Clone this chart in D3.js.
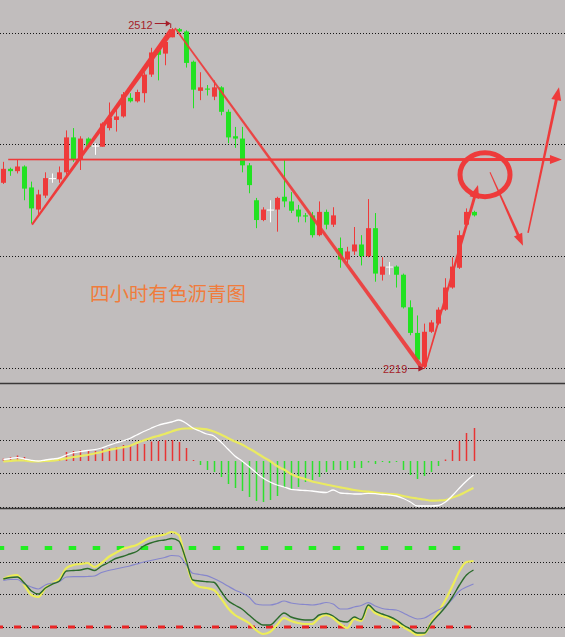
<!DOCTYPE html>
<html><head><meta charset="utf-8">
<script src="https://cdn.jsdelivr.net/npm/d3@7/dist/d3.min.js"></script>
<style>html,body{margin:0;padding:0;background:#c1bdbd;}svg{display:block;}</style>
</head><body>
<svg id="chart" width="565" height="637"></svg>
<script>
// ---------- DATA ----------
const candleOpen  = [2379,2391,2389,2393,2375,2356,2368,2383,2382,2388,2418,2399,2417,2411,2410,2426,2433,2436,2452,2449,2456,2472,2493,2490,2504,2511,2509,2483,2458,2460,2453,2461,2440,2419,2417,2394,2364,2347,2356,2356,2367,2363,2356,2351,2351,2334,2354,2343,2323,2313,2320,2326,2316,2340,2300,2307,2307,2300,2272,2250,2221,2251,2258,2270,2289,2306,2343,2354];
const candleHigh  = [2397,2392,2399,2394,2380,2373,2388,2387,2393,2424,2426,2419,2418,2413,2431,2448,2443,2457,2456,2459,2474,2495,2496,2503,2512,2512,2510,2484,2474,2463,2467,2462,2442,2427,2427,2396,2366,2358,2364,2367,2399,2371,2360,2353,2354,2363,2356,2358,2332,2324,2341,2334,2365,2353,2315,2311,2308,2301,2278,2265,2258,2261,2272,2297,2315,2338,2357,2355];
const candleLow   = [2378,2385,2387,2364,2344,2350,2366,2379,2379,2386,2397,2390,2409,2403,2410,2424,2423,2435,2448,2448,2448,2470,2467,2480,2504,2508,2478,2443,2450,2454,2450,2437,2413,2409,2388,2370,2340,2346,2345,2337,2358,2353,2345,2345,2332,2333,2339,2341,2306,2310,2317,2308,2315,2294,2295,2300,2289,2271,2248,2225,2219,2250,2257,2269,2288,2305,2342,2350];
const candleClose = [2391,2389,2393,2374,2357,2369,2383,2383,2388,2418,2399,2417,2410,2411,2430,2435,2436,2455,2449,2457,2472,2491,2489,2500,2511,2509,2482,2459,2461,2459,2461,2440,2418,2417,2394,2377,2347,2356,2356,2366,2363,2355,2350,2350,2334,2354,2343,2351,2313,2320,2326,2316,2340,2301,2307,2307,2300,2272,2250,2227,2251,2259,2270,2289,2307,2334,2354,2351];

const macdHist = [2.5,4,5.5,4,0.5,0.5,0.5,0.5,2.5,9,10,11,11,10,12,13,14,16,16,17,17,19.5,20,21,21,19,13,1,-4,-9,-11,-16,-23,-27,-30,-36,-40,-41,-39,-35,-26,-28,-26,-21,-19,-16,-11,-9,-9,-9,-7,-7,-1.5,-3,-1,-2,-1,-9,-14,-18,-15,-11,-5,1.5,11,20,28,33];
const macdDif  = [1.5,2.5,3.3,2,0.7,0,1,2,3,6,8.3,9.5,10.5,11.3,13,15.5,18,20,22.5,26,29.5,32.5,35.5,37.5,39,41,38,33,30,27,25,19,12,5,0,-5.5,-11.5,-17,-21,-24,-26,-28.3,-29,-29.5,-30,-31,-31.5,-29,-32,-32.5,-33,-33,-32.3,-32.7,-33.5,-34,-35,-37.5,-41,-45,-45,-45,-44.5,-41,-34.5,-27,-20,-14];
const macdDea  = [-0.5,0,0.7,0.5,-0.3,-0.5,0,0.3,1.3,2.7,4,5,6,7.5,9,11,12.3,13.7,15,18,20.5,23,25,27,29.5,31.7,32.5,32.7,32.3,31.7,29.5,26.5,23,19.5,16.5,12.5,8.5,4,0,-5,-8.5,-13,-16,-18,-20.5,-22,-23.5,-25,-26.3,-27.7,-29,-30,-30.7,-31.7,-32.3,-33,-33.5,-35,-36.5,-37.5,-38.5,-39.7,-39.5,-39,-36.5,-34,-30.5,-27];

const kdjYellow = [48,51,52,42,32,30,39,44,48,59,62,63,64,60,64,70,74,78,80,82,86,89.5,91,92.5,95,92,66,45,40,39,37,29,19,12,8,4,-3,-7,-5,2,9,6,4,3,3,9,12,9,3,-1,8,6,20,14,11,9,5,0,-4,-8,-7,5,15,27,41,56,65,66];
const kdjGreen  = [48,49.5,50,44,36,33,39,43,46,56,56.5,57,58.5,56.5,61,64.5,68.5,70.5,73,75.5,81,84,86,87,88.5,86,68,47,46,45.3,44.7,36,26.5,22,18,12,6,2,2,8,14,10,8,7,7,12,13.5,11,6,5,10,7.5,22,16,13,10.5,7,2,-2,-6,-6,4,12,20,30,42,52,57];
const kdjBlue   = [46.5,47.5,47.5,43,40,38,42,44,45.5,50,50.3,50.3,50.5,51,54.5,56.5,58,59.5,61,63,65,66.5,68,69.5,71.5,71,63,53.7,52.5,51.3,48.5,45,41,37,34,30,23,22,22,23.5,26,24,23,22.5,22,23,24.5,23,18,18,20,21.5,24.3,21,18.5,17.5,17,14,10.5,8,9,13,17,21,28,36,40,43];

const priceGrid = [2508,2412,2316,2220];
const macdGrid  = [54,21,-12,-45.5];
const kdjGrid   = [94,65,33,0];
const kdjUpperLevel = 79;
const kdjLowerLevel = 0;

const titleText = "四小时有色沥青图";

// annotation points in (candle index, price)
const hLinePts     = [[0.7,2399],[79.6,2399]];
const trendUpPts   = [[4.09,2343],[24.0,2510]];
const trendDownPts = [[24.46,2512],[59.66,2220]];
const reboundPts   = [[60.1,2220],[67.64,2377]];
const circlePt     = [68.64,2386];
const dropPts      = [[69.35,2388],[74.05,2325]];
const risePts      = [[74.77,2336],[79.18,2461]];

// ---------- SETUP ----------
const W=565,H=637;
const svg=d3.select('#chart');
const RED='#ef3a3a', GREEN='#22e222', WHITE='#ffffff', ANN='#ee3b3b';
svg.append('rect').attr('width',W).attr('height',H).attr('fill','#c1bdbd');

const x  = d3.scaleLinear().domain([0,67]).range([3.3,473.5]);
const yP = d3.scaleLinear().domain([2219,2512]).range([369,28]);
const yM = d3.scaleLinear().domain([-46,54]).range([507,407]);
const yK = d3.scaleLinear().domain([0,100]).range([627,527]);

function grid(cls, vals, sc){
  svg.selectAll('line.'+cls).data(vals).join('line').attr('class',cls)
    .attr('x1',0).attr('x2',W)
    .attr('y1',d=>Math.round(sc(d))+0.5).attr('y2',d=>Math.round(sc(d))+0.5)
    .attr('stroke','#161616').attr('stroke-width',1).attr('stroke-dasharray','1,2');
}
grid('gp',priceGrid,yP); grid('gm',macdGrid,yM); grid('gk',kdjGrid,yK);

// separators
svg.selectAll('line.sep').data([383.5,508.5]).join('line').attr('class','sep')
  .attr('x1',0).attr('x2',W).attr('y1',d=>d).attr('y2',d=>d)
  .attr('stroke','#3a3838').attr('stroke-width',1.5);

// ---------- CANDLES ----------
const candles=candleOpen.map((o,i)=>({i,o,h:candleHigh[i],l:candleLow[i],c:candleClose[i]}));
const col=d=>d.c>d.o?RED:(d.c<d.o?GREEN:WHITE);
const gC=svg.append('g');
gC.selectAll('line.wick').data(candles).join('line').attr('class','wick')
  .attr('x1',d=>Math.round(x(d.i))+0.5).attr('x2',d=>Math.round(x(d.i))+0.5)
  .attr('y1',d=>yP(d.h)).attr('y2',d=>yP(d.l)).attr('stroke',col).attr('stroke-width',1);
gC.selectAll('rect.body').data(candles).join('rect').attr('class','body')
  .attr('x',d=>Math.round(x(d.i))-(d.o===d.c?3:2)).attr('width',d=>d.o===d.c?7:5)
  .attr('y',d=>yP(Math.max(d.o,d.c))).attr('height',d=>Math.max(1,Math.abs(yP(d.o)-yP(d.c))))
  .attr('fill',col);

// ---------- ANNOTATIONS ----------
const gA=svg.append('g');
const P=p=>[x(p[0]),yP(p[1])];
function taper(a,b,w0,w1,color,op){
  const dx=b[0]-a[0],dy=b[1]-a[1],L=Math.hypot(dx,dy),nx=-dy/L,ny=dx/L;
  const pts=[[a[0]+nx*w0/2,a[1]+ny*w0/2],[b[0]+nx*w1/2,b[1]+ny*w1/2],[b[0]-nx*w1/2,b[1]-ny*w1/2],[a[0]-nx*w0/2,a[1]-ny*w0/2]];
  gA.append('path').attr('d','M'+pts.map(p=>p.join(',')).join('L')+'Z').attr('fill',color).attr('opacity',op||1);
}
function head(tip,from,len,wid,color){
  const dx=tip[0]-from[0],dy=tip[1]-from[1],L=Math.hypot(dx,dy),ux=dx/L,uy=dy/L,nx=-uy,ny=ux;
  const bx=tip[0]-ux*len,by=tip[1]-uy*len;
  gA.append('path').attr('d',`M${tip[0]},${tip[1]}L${bx+nx*wid/2},${by+ny*wid/2}L${bx-nx*wid/2},${by-ny*wid/2}Z`).attr('fill',color);
}
// horizontal level line
{const a=P(hLinePts[0]),b=P(hLinePts[1]); taper(a,[b[0]-8,b[1]],1.6,3,ANN); head(b,a,12,9,ANN);}
// trend lines
taper(P(trendUpPts[0]),P(trendUpPts[1]),2,5.5,ANN);
taper(P(trendDownPts[0]),P(trendDownPts[1]),1.6,4.2,ANN,0.92);
// rebound arrow
{const a=P(reboundPts[0]),b=P(reboundPts[1]); const d=Math.hypot(b[0]-a[0],b[1]-a[1]);
 const e=[b[0]-(b[0]-a[0])/d*8,b[1]-(b[1]-a[1])/d*8]; taper(a,e,1.5,3,ANN); head(b,a,13,10,ANN);}
// circle
{const c=P(circlePt); gA.append('ellipse').attr('cx',c[0]).attr('cy',c[1]).attr('rx',25).attr('ry',22)
  .attr('fill','none').attr('stroke',ANN).attr('stroke-width',5);}
// drop arrow
{const a=P(dropPts[0]),b=P(dropPts[1]); const d=Math.hypot(b[0]-a[0],b[1]-a[1]);
 const e=[b[0]-(b[0]-a[0])/d*8,b[1]-(b[1]-a[1])/d*8]; taper(a,e,1,3,ANN); head(b,a,12,9,ANN);}
// rise arrow
{const a=P(risePts[0]),b=P(risePts[1]); const d=Math.hypot(b[0]-a[0],b[1]-a[1]);
 const e=[b[0]-(b[0]-a[0])/d*8,b[1]-(b[1]-a[1])/d*8]; taper(a,e,1.5,3,ANN); head(b,a,13,10,ANN);}

// high / low labels
const maxHigh=d3.max(candleHigh), iMax=candleHigh.indexOf(maxHigh);
const minLow=d3.min(candleLow), iMin=candleLow.indexOf(minLow);
const LBL='#a51e2a';
{const tx=x(iMax), ty=yP(maxHigh);
 svg.append('text').attr('x',tx-19).attr('y',ty+1).attr('text-anchor','end')
   .attr('font-family','Liberation Sans, Arial, sans-serif').attr('font-size',11).attr('fill',LBL).text(maxHigh);
 svg.append('line').attr('x1',tx-17).attr('x2',tx-3).attr('y1',ty-4.5).attr('y2',ty-4.5).attr('stroke',LBL).attr('stroke-width',1);
 svg.append('path').attr('d',`M${tx-1},${ty-4.5}L${tx-6},${ty-7.5}L${tx-6},${ty-1.5}Z`).attr('fill',LBL);
 svg.append('line').attr('x1',tx-1).attr('x2',tx-1).attr('y1',ty-4.5).attr('y2',ty).attr('stroke',LBL).attr('stroke-width',1);}
{const tx=x(iMin), ty=yP(minLow);
 svg.append('text').attr('x',tx-17).attr('y',ty+4).attr('text-anchor','end')
   .attr('font-family','Liberation Sans, Arial, sans-serif').attr('font-size',11).attr('fill',LBL).text(minLow);
 svg.append('line').attr('x1',tx-15).attr('x2',tx-3).attr('y1',ty-0.5).attr('y2',ty-0.5).attr('stroke',LBL).attr('stroke-width',1);
 svg.append('path').attr('d',`M${tx},${ty-0.5}L${tx-6},${ty-3.5}L${tx-6},${ty+2.5}Z`).attr('fill',LBL);}

// title
svg.append('text').attr('x',90).attr('y',301).attr('font-family','"Noto Sans CJK SC", sans-serif')
  .attr('font-size',19.5).attr('fill','#f07c3c').text(titleText);

// ---------- MACD ----------
const gM=svg.append('g');
gM.selectAll('line.hist').data(macdHist).join('line').attr('class','hist')
  .attr('x1',(d,i)=>Math.round(x(i))+0.5).attr('x2',(d,i)=>Math.round(x(i))+0.5)
  .attr('y1',yM(0)).attr('y2',d=>yM(d)).attr('stroke',d=>d>=0?'#e83434':'#2ee02e').attr('stroke-width',1.5);
const lineM=d3.line().x((d,i)=>x(i)).y(d=>yM(d)).curve(d3.curveMonotoneX);
gM.append('path').attr('d',lineM(macdDea)).attr('fill','none').attr('stroke','#ecec5c').attr('stroke-width',2.2).attr('opacity',0.95);
gM.append('path').attr('d',lineM(macdDif)).attr('fill','none').attr('stroke','#ffffff').attr('stroke-width',1.3);

// ---------- KDJ ----------
const gK=svg.append('g');
gK.append('line').attr('x1',0).attr('x2',461).attr('y1',yK(kdjUpperLevel)).attr('y2',yK(kdjUpperLevel))
  .attr('stroke','#22ee22').attr('stroke-width',4).attr('stroke-dasharray','7.5,16.5').attr('stroke-dashoffset',3.3);
gK.append('line').attr('x1',0).attr('x2',472).attr('y1',yK(kdjLowerLevel)).attr('y2',yK(kdjLowerLevel))
  .attr('stroke','#e82424').attr('stroke-width',3).attr('stroke-dasharray','7,11').attr('stroke-dashoffset',4);
const lineK=d3.line().x((d,i)=>x(i)).y(d=>yK(d)).curve(d3.curveMonotoneX);
gK.append('path').attr('d',lineK(kdjYellow)).attr('fill','none').attr('stroke','#eded58').attr('stroke-width',2.2);
gK.append('path').attr('d',lineK(kdjBlue)).attr('fill','none').attr('stroke','#8686cc').attr('stroke-width',1.2);
gK.append('path').attr('d',lineK(kdjGreen)).attr('fill','none').attr('stroke','#2b6b2b').attr('stroke-width',1.4);
</script>
</body></html>
